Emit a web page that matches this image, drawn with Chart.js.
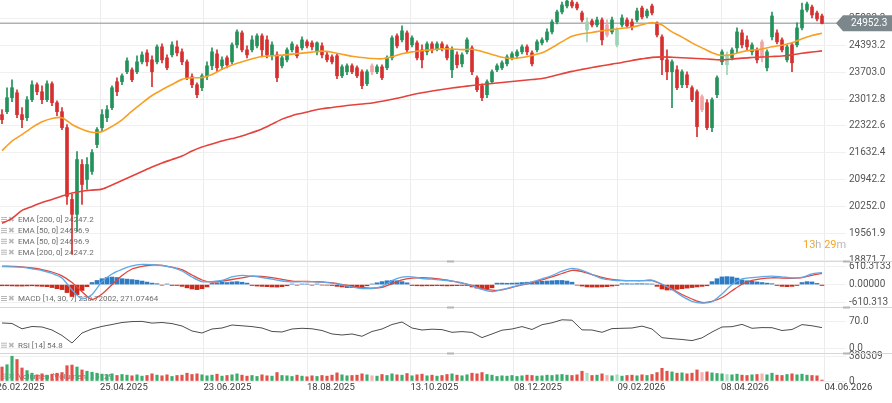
<!DOCTYPE html>
<html>
<head>
<meta charset="utf-8">
<script src="https://cdn.jsdelivr.net/npm/chart.js@4.4.1/dist/chart.umd.min.js"></script>
<style>
  html, body { margin: 0; padding: 0; background: #fff; overflow: hidden; }
  #wrap { position: relative; width: 892px; height: 403px; overflow: hidden; }
  #wrap canvas { position: absolute; left: -6px; top: 0; }
</style>
</head>
<body>
<div id="wrap">
  <canvas id="cPrice" width="898" height="403" style="width:898px;height:403px"></canvas>
  <canvas id="cMacd" width="898" height="403" style="width:898px;height:403px"></canvas>
  <canvas id="cRsi" width="898" height="403" style="width:898px;height:403px"></canvas>
  <canvas id="cVol" width="898" height="403" style="width:898px;height:403px"></canvas>
</div>
<script>
// daily candles (index 0 = 26.02.2025)
const opens = [22612,22688,23046,23174,22612,22535,22995,23378,23199,22995,
  23404,22918,22688,22279,20439,20056,21334,20950,21155,21845,
  22279,22535,22790,23455,23455,23711,23762,23711,23966,24196,
  24017,23966,24350,24068,24145,24350,24222,23966,23583,23378,
  23302,23608,23864,24171,23864,24068,23966,24401,24708,24273,
  24273,24375,24631,24529,24145,24145,23864,24017,24273,24350,
  24324,24478,24452,24222,24375,24145,24094,24120,23608,23711,
  23864,23813,23711,23404,23864,23711,23838,23813,24068,24631,
  24529,24708,24401,24452,24273,24222,24426,24299,24426,24350,
  23762,24145,23915,24222,24324,23557,23353,23123,23455,23762,
  23813,23915,24068,24120,24222,24350,24196,24273,24452,24529,
  24733,24989,25244,25398,25500,25449,25219,24784,25014,24912,
  25040,24912,24733,24401,24912,25040,24989,25040,25346,25142,
  25398,24963,24605,24017,23711,23762,23378,23634,23302,23199,
  23072,22918,22279,23123,23966,23890,24068,24324,24708,24529,
  24222,24273,24478,23813,24605,24708,24529,24017,24401,24401,
  24835,25295,25372,25219,25142];
const highs = [22739,23302,23506,23251,22790,23072,23481,23430,23353,23481,
  23455,22969,22790,22356,20567,21666,21461,21512,21717,22279,
  22739,22842,23353,23557,23660,24068,23813,24120,24222,24273,
  24120,24401,24426,24145,24478,24503,24299,24017,23660,23430,
  23660,23966,24324,24273,24094,24120,24452,24784,24759,24375,
  24631,24682,24682,24631,24478,24222,24120,24324,24478,24401,
  24605,24529,24503,24478,24452,24222,24145,24171,23890,23915,
  23915,23864,23762,23762,23915,23890,23890,24120,24631,24682,
  24886,24759,24631,24503,24401,24478,24478,24478,24478,24401,
  24350,24222,24196,24580,24375,23608,23404,23506,23762,23915,
  23992,24145,24222,24273,24401,24401,24247,24529,24580,24810,
  25040,25295,25500,25545,25545,25500,25270,25091,25065,25116,
  25091,25040,25116,24835,25168,25091,25065,25346,25398,25321,
  25449,24989,24656,24273,24017,23864,23762,23711,23353,23251,
  23123,22995,23046,23608,24273,24222,24324,24835,24784,24631,
  24452,24324,24529,24273,25244,24784,24580,24401,24452,24963,
  25474,25500,25423,25270,25193];
const lows = [22381,22637,22944,22535,22279,22458,22944,23123,22893,22944,
  22842,22586,22228,20311,19033,19621,20311,20695,21078,21768,
  22177,22433,22739,23097,23378,23660,23455,23660,23915,23864,
  23327,23915,23941,23762,24094,24120,23890,23506,23302,23046,
  23225,23506,23762,23711,23762,23813,23915,24324,24222,24068,
  24222,24324,24094,24068,24017,23455,23813,23966,24222,24068,
  24273,24324,24273,24145,24068,23966,23915,23532,23557,23634,
  23660,23557,23276,23353,23634,23660,23506,23762,24017,24324,
  24478,24222,24350,24017,23813,24145,24196,24247,24247,24017,
  23557,23813,23838,24171,23634,23199,22969,23046,23404,23711,
  23762,23864,24017,24068,24171,24145,23864,24222,24401,24478,
  24682,24938,25193,25346,25346,25295,24989,24478,24861,24861,
  24401,24605,24682,24350,24861,24835,24784,24989,25065,25091,
  25168,24605,23634,23506,22790,23251,23302,23302,22944,22049,
  22688,22228,22177,23046,23890,23634,24017,24196,24324,24273,
  24145,23941,23966,23736,24529,24426,24222,23966,23711,24350,
  24784,25244,25091,25014,24938];
const closes = [22484,23046,23302,22612,22484,22995,23378,23199,22995,23404,
  22918,22688,22279,20516,20056,21461,20822,21334,21640,22228,
  22612,22739,23302,23199,23608,23992,23506,23966,24145,23966,
  23711,24350,24017,23813,24401,24196,23966,23557,23378,23123,
  23608,23864,24222,23813,24017,23890,24401,24733,24273,24145,
  24529,24631,24273,24145,24401,23557,24068,24273,24426,24120,
  24529,24375,24350,24452,24145,24017,23966,23608,23838,23864,
  23711,23608,23353,23711,23711,23838,23557,24068,24580,24375,
  24759,24273,24580,24068,24017,24426,24273,24426,24324,24068,
  24273,23890,24145,24529,23711,23251,23046,23455,23711,23864,
  23941,24094,24171,24222,24350,24222,23915,24478,24529,24733,
  24989,25244,25423,25525,25398,25346,25040,24989,24912,25040,
  24529,24656,25040,24784,25091,24886,24861,25270,25116,25270,
  25219,24656,24017,23711,23966,23302,23711,23378,22995,22305,
  22739,22279,22995,23557,24222,24145,24273,24733,24401,24350,
  24401,24017,24068,24222,25142,24478,24273,24350,23941,24835,
  25295,25449,25168,25065,24952.3];
const volumes = [215000,250000,380309,330000,200000,160000,120000,95000,110000,90000,
  105000,120000,130000,235000,245000,215000,170000,150000,135000,120000,
  105000,95000,110000,85000,100000,90000,80000,95000,75000,85000,
  110000,90000,80000,95000,70000,85000,90000,120000,100000,110000,
  95000,80000,90000,105000,75000,85000,95000,110000,90000,75000,
  85000,70000,95000,80000,75000,130000,85000,80000,70000,90000,
  75000,65000,80000,70000,85000,75000,90000,125000,95000,80000,
  85000,90000,110000,95000,80000,75000,100000,85000,110000,95000,
  90000,115000,80000,95000,105000,80000,90000,75000,85000,100000,
  110000,90000,80000,95000,120000,110000,130000,100000,90000,70000,
  80000,75000,85000,70000,80000,90000,85000,75000,80000,90000,
  85000,95000,100000,90000,85000,95000,150000,120000,85000,90000,
  110000,85000,80000,95000,75000,85000,90000,80000,95000,85000,
  100000,130000,195000,150000,140000,120000,125000,110000,120000,170000,
  130000,140000,125000,115000,110000,100000,95000,105000,90000,85000,
  95000,100000,110000,95000,120000,90000,85000,100000,110000,95000,
  105000,90000,85000,80000,15129];

// indicators, one value every second candle
const ema50 = [21691,21934,22100,22279,22428,22515,22535,22361,22238,22159,
  22177,22310,22479,22704,22908,23102,23251,23384,23516,23557,
  23562,23642,23775,23885,23966,24043,24104,24120,24138,24163,
  24189,24214,24240,24212,24161,24109,24076,24051,24043,24094,
  24171,24222,24253,24278,24299,24293,24278,24288,24232,24155,
  24084,24048,24079,24130,24196,24329,24483,24621,24687,24718,
  24764,24792,24825,24853,24915,24973,24912,24733,24600,24452,
  24324,24201,24130,24155,24224,24265,24291,24352,24393,24454,
  24559,24641,24697];
const ema200 = [19826,19953,20158,20260,20362,20439,20528,20605,20649,20677,
  20702,20810,20925,21040,21155,21270,21372,21461,21551,21679,
  21781,21858,21934,21998,22062,22151,22246,22369,22497,22586,
  22650,22714,22765,22796,22829,22860,22885,22911,22954,23005,
  23059,23123,23174,23217,23258,23294,23327,23358,23384,23409,
  23435,23460,23486,23511,23537,23596,23660,23721,23772,23821,
  23864,23908,23951,24002,24043,24081,24094,24084,24071,24058,
  24046,24030,24017,24035,24061,24076,24089,24102,24115,24145,
  24184,24217,24247];
const macdLine = [607,603,590,536,478,383,224,-183,-481,-336,
  102,359,515,631,685,678,647,580,461,258,
  98,102,139,258,312,285,241,186,122,92,
  98,98,81,47,-14,-81,-132,-132,-58,136,
  251,264,207,183,156,115,61,-34,-166,-241,
  -166,-81,0,95,197,308,454,549,485,342,
  203,153,132,132,132,153,20,-166,-390,-566,
  -624,-583,-319,3,190,234,271,288,261,227,
  241,366,403];
const macdSignal = [627,617,603,563,509,427,298,71,-241,-505,
  -319,-3,308,529,620,664,651,590,505,325,
  156,85,122,173,231,288,278,237,180,119,
  108,102,88,68,3,-58,-105,-119,-95,27,
  159,220,237,217,173,119,47,-34,-132,-190,
  -176,-98,-7,68,163,258,376,485,441,339,
  241,173,142,132,132,132,3,-149,-336,-488,
  -607,-573,-437,-210,10,139,203,231,220,214,
  234,315,380];
const rsi = [66.7,65.4,51.8,57.7,56.4,48.7,34.6,15.4,41.0,51.3,
  57.9,62.8,67.9,70.3,70.8,66.4,67.9,65.1,59.0,46.2,
  41.0,51.3,53.8,61.5,59.5,57.4,53.8,44.9,43.6,51.3,
  53.1,51.8,47.4,38.5,35.9,38.5,32.6,44.9,51.3,62.8,
  69.2,53.8,48.7,50.8,49.7,42.8,44.6,42.6,29.2,38.5,
  48.2,51.3,57.4,50.0,62.3,67.2,74.9,73.8,49.0,48.7,
  42.8,52.3,53.1,53.8,58.7,51.3,29.0,26.4,24.4,21.5,
  28.5,43.6,56.4,57.2,63.1,53.1,54.9,54.6,47.4,50.0,
  62.6,59.5,54.8];
// histogram, one value per candle
const macdHist = [-40,-40,-45,-50,-50,-45,-40,-50,-60,-70,
  -100,-140,-170,-270,-400,-340,-200,-70,70,140,
  200,240,255,240,200,185,170,150,120,85,
  50,30,-20,20,-30,-30,-60,-110,-150,-170,
  -140,-80,40,60,80,70,90,100,80,50,
  -30,-50,-60,-70,-80,-85,-70,-40,20,-20,
  20,15,-20,20,-15,-20,-30,-60,-80,-100,
  -100,-90,-70,-40,20,60,100,130,140,130,
  100,60,-30,-40,-45,-40,-40,-35,-40,-45,
  -40,-35,-30,-30,-80,-120,-145,-145,-110,50,
  50,45,50,55,70,80,90,100,110,120,
  130,140,140,120,80,-20,-50,-80,-85,-85,
  -80,-70,-50,-30,30,30,25,30,30,25,
  20,-60,-150,-185,-180,-160,-140,-120,-100,-80,
  -60,-40,100,200,260,270,260,220,160,130,
  110,90,70,50,30,-30,-60,-70,-60,-30,
  70,100,90,40,-30];

// axes
const dateLabels = ['26.02.2025','25.04.2025','23.06.2025','18.08.2025','13.10.2025','08.12.2025','09.02.2026','08.04.2026','04.06.2026'];
const dateTicks = [-1.1, 19.6, 40.3, 61.0, 81.7, 102.4, 123.1, 143.8, 164.5];
const priceTicks = [25083.3, 24393.2, 23703.0, 23012.8, 22322.6, 21632.4, 20942.2, 20252.0, 19561.9, 18871.7];
const macdTicks = [610.3133, 0, -610.313];
const macdTickLabels = ['610.3133', '0.00000', '-610.313'];
const rsiTicks = [70, 0];
const volTicks = [380309, 0];

const emaLegend = ['EMA [200, 0] 24247.2', 'EMA [50, 0] 24696.9', 'EMA [50, 0] 24696.9', 'EMA [200, 0] 24247.2'];
const macdLegend = 'MACD [14, 30, 7] 230.72002, 271.07464';
const rsiLegend = 'RSI [14] 54.8';
const volLegend = 'Volumen (Volumen) 15129';

Chart.defaults.font.family = "Roboto, 'Noto Sans', sans-serif";
const OFF = 6; // canvas sits 6px left of the page

const GREEN = '#23925a', GREEN_PALE = '#9dd4b4', RED = '#d5302f', RED_PALE = '#f0a4a4';
const candleColors = closes.map((c, i) => {
  const up = c >= opens[i];
  const prev = i ? closes[i - 1] : opens[i];
  const strong = (c >= prev) === up;
  return up ? (strong ? GREEN : GREEN_PALE) : (strong ? RED : RED_PALE);
});
const volColors = closes.map((c, i) => {
  const up = c >= opens[i];
  const prev = i ? closes[i - 1] : opens[i];
  const strong = (c >= prev) === up;
  return up ? (strong ? '#3aad6c' : '#a9dcc0') : (strong ? '#e2504a' : '#f3b0b0');
});

function xScale(showLabels) {
  return {
    type: 'linear', min: -1.6, max: 168.8, offset: false,
    afterBuildTicks: s => { s.ticks = dateTicks.map(v => ({ value: v })); },
    afterFit: s => { s.height = showLabels ? 22 : 0; s.paddingLeft = 0; s.paddingRight = 0; },
    grid: { color: '#ececec', drawTicks: false, offset: false },
    border: { display: false },
    ticks: {
      display: showLabels, autoSkip: false, maxRotation: 0, align: 'start', padding: 1,
      color: '#3c3c3c', font: { size: 9.5 },
      callback: (v, i) => dateLabels[i]
    }
  };
}

function yScale(min, max, vals, labels) {
  return {
    position: 'right', min: min, max: max,
    afterBuildTicks: s => { s.ticks = vals.map(v => ({ value: v })); },
    afterFit: s => { s.width = 46; s.paddingTop = 0; s.paddingBottom = 0; },
    grid: { color: '#f0f0f0', drawTicks: false },
    border: { display: false },
    ticks: { padding: 3, color: '#555', font: { size: 10 }, callback: (v, i) => labels[i] }
  };
}

function baseOptions(top, bottom, scales) {
  return {
    responsive: false, animation: false, devicePixelRatio: 1, events: [],
    layout: { padding: { top: top, bottom: bottom, left: 0, right: 0 } },
    plugins: { legend: { display: false }, tooltip: { enabled: false } },
    scales: scales
  };
}

function drawIcons(ctx, y) {
  ctx.fillStyle = '#b8b8b8';
  ctx.fillRect(OFF + 1, y - 3, 6, 1);
  ctx.fillRect(OFF + 1, y - 1, 6, 1);
  ctx.fillRect(OFF + 1, y + 1, 6, 1);
  ctx.font = '8px "DejaVu Sans"';
  ctx.fillText('\u2716', OFF + 8, y);
}

function label(ctx, text, y) {
  ctx.save();
  ctx.textBaseline = 'middle';
  drawIcons(ctx, y);
  ctx.font = '8px Roboto';
  ctx.fillStyle = '#6e6e6e';
  ctx.fillText(text, OFF + 18, y);
  ctx.restore();
}

function separator(chart) {
  const ctx = chart.ctx, y = chart.chartArea.top + 0.5;
  ctx.save();
  ctx.strokeStyle = '#d8d8d8';
  ctx.lineWidth = 1;
  ctx.beginPath(); ctx.moveTo(0, y); ctx.lineTo(chart.width, y); ctx.stroke();
  ctx.fillStyle = '#b5b5b5';
  ctx.fillRect(OFF + 447, y - 1, 7, 2);
  ctx.fillRect(OFF + 843, y - 1, 7, 2);
  ctx.restore();
}

// ---- price panel ----
const priceDecor = {
  id: 'priceDecor',
  beforeDatasetsDraw(chart) {
    emaLegend.forEach((s, k) => label(chart.ctx, s, 220 + k * 10.9));
  },
  afterDraw(chart) {
    const ctx = chart.ctx;
    const last = closes[closes.length - 1];
    const y = chart.scales.y.getPixelForValue(last);
    ctx.save();
    ctx.fillStyle = '#7b878b';
    ctx.beginPath();
    ctx.moveTo(OFF + 836, y);
    ctx.lineTo(OFF + 843, y - 8);
    ctx.lineTo(OFF + 892, y - 8);
    ctx.lineTo(OFF + 892, y + 8);
    ctx.lineTo(OFF + 843, y + 8);
    ctx.closePath();
    ctx.fill();
    ctx.fillStyle = '#ffffff';
    ctx.font = '10px Roboto';
    ctx.textBaseline = 'middle';
    ctx.fillText(last.toFixed(1), OFF + 851, y + 0.5);
    // countdown to the close
    ctx.font = '11px Roboto';
    let x = OFF + 803;
    [['13', '#f5a623'], ['h ', '#b9b9b9'], ['29', '#f5a623'], ['m', '#b9b9b9']].forEach(p => {
      ctx.fillStyle = p[1];
      ctx.fillText(p[0], x, 245.5);
      x += ctx.measureText(p[0]).width;
    });
    ctx.restore();
  }
};

new Chart(document.getElementById('cPrice'), {
  type: 'bar',
  data: {
    datasets: [
      { type: 'line', data: ema50.map((v, k) => ({ x: 2 * k, y: v })), borderColor: '#f7a024', borderWidth: 1.6, pointRadius: 0, tension: 0.25, order: 0 },
      { type: 'line', data: ema200.map((v, k) => ({ x: 2 * k, y: v })), borderColor: '#e5423b', borderWidth: 1.6, pointRadius: 0, tension: 0.25, order: 0 },
      { type: 'bar', data: opens.map((o, i) => ({ x: i, y: [o, closes[i]] })), backgroundColor: candleColors, barThickness: 3, grouped: false, order: 1 },
      { type: 'bar', data: lows.map((l, i) => ({ x: i, y: [l, highs[i]] })), backgroundColor: candleColors, barThickness: 1, grouped: false, order: 2 },
      { type: 'line', data: [{ x: -1.6, y: closes[closes.length - 1] }, { x: 168.2, y: closes[closes.length - 1] }], borderColor: '#abb3b4', borderWidth: 1.5, pointRadius: 0, order: 3 }
    ]
  },
  options: baseOptions(0, 142, {
    x: xScale(false),
    y: yScale(18860, 25551, priceTicks, priceTicks.map(v => v.toFixed(1)))
  }),
  plugins: [priceDecor]
});

// ---- MACD panel ----
new Chart(document.getElementById('cMacd'), {
  type: 'bar',
  data: {
    datasets: [
      { type: 'line', data: macdLine.map((v, k) => ({ x: 2 * k, y: v })), borderColor: '#5ea8e6', borderWidth: 1.3, pointRadius: 0, tension: 0.25, order: 0 },
      { type: 'line', data: macdSignal.map((v, k) => ({ x: 2 * k, y: v })), borderColor: '#e2453c', borderWidth: 1.3, pointRadius: 0, tension: 0.25, order: 0 },
      { type: 'bar', data: macdHist.map((v, i) => ({ x: i, y: v })), backgroundColor: macdHist.map(v => v >= 0 ? '#2e7cc4' : '#cd2a1b'), barThickness: 4, grouped: false, order: 1 }
    ]
  },
  options: baseOptions(261, 96, {
    x: xScale(false),
    y: yScale(-760, 800, macdTicks, macdTickLabels)
  }),
  plugins: [{
    id: 'macdDecor',
    beforeDatasetsDraw(chart) { label(chart.ctx, macdLegend, 299); },
    afterDraw(chart) { separator(chart); }
  }]
});

// ---- RSI panel ----
new Chart(document.getElementById('cRsi'), {
  type: 'line',
  data: {
    datasets: [
      { data: rsi.map((v, k) => ({ x: 2 * k, y: v })), borderColor: '#4d4d4d', borderWidth: 1, pointRadius: 0, tension: 0 }
    ]
  },
  options: baseOptions(307, 50, {
    x: xScale(false),
    y: yScale(-10.3, 107.7, rsiTicks, ['70.0', '0.0'])
  }),
  plugins: [{
    id: 'rsiDecor',
    beforeDatasetsDraw(chart) { label(chart.ctx, rsiLegend, 345.7); },
    afterDraw(chart) { separator(chart); }
  }]
});

// ---- volume panel ----
new Chart(document.getElementById('cVol'), {
  type: 'bar',
  data: {
    datasets: [
      { data: volumes.map((v, i) => ({ x: i, y: v })), backgroundColor: volColors, barThickness: 2.5, grouped: false }
    ]
  },
  options: baseOptions(353, 0, {
    x: xScale(true),
    y: yScale(0, 430000, volTicks, ['380309', '0'])
  }),
  plugins: [{
    id: 'volDecor',
    beforeDatasetsDraw(chart) { label(chart.ctx, volLegend, 376.7); },
    afterDraw(chart) { separator(chart); }
  }]
});
</script>
</body>
</html>
